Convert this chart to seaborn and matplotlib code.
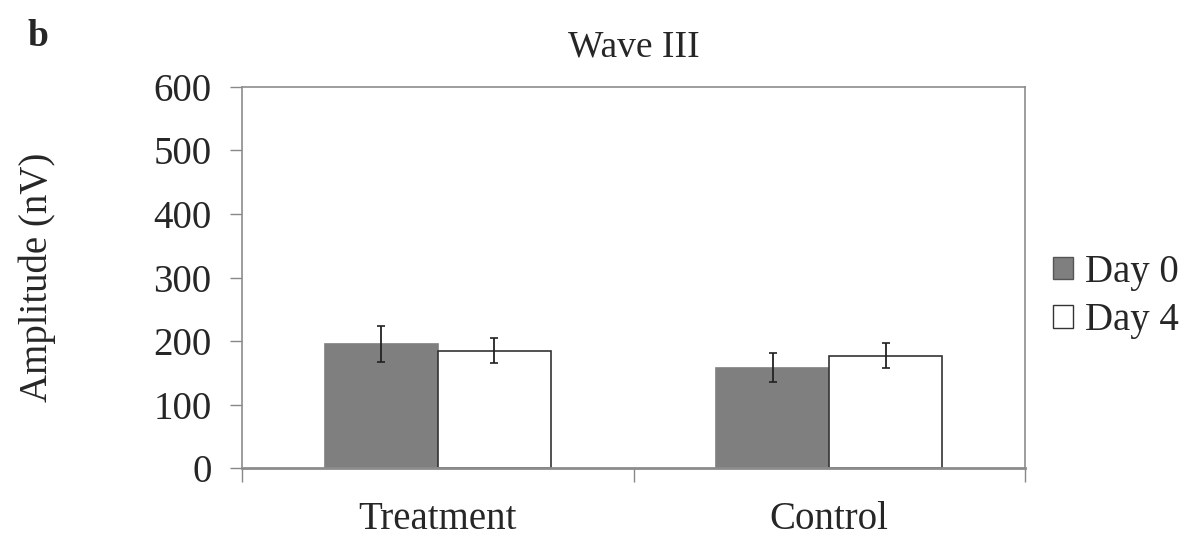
import numpy as np
import pandas as pd
import seaborn as sns
from matplotlib import pyplot as plt
from matplotlib.patches import Patch

# values (Wave III amplitude, nV)
groups = ["Treatment", "Control"]
days = ["Day 0", "Day 4"]
day0_mean = [195, 158]
day4_mean = [185, 177]
day0_err = [28, 23]
day4_err = [19, 20]

df = pd.DataFrame({
    "group": groups + groups,
    "day": [days[0]] * 2 + [days[1]] * 2,
    "amp": day0_mean + day4_mean,
})
errs = {days[0]: day0_err, days[1]: day4_err}

sns.set_style("white")
plt.rcParams['font.family'] = ['Liberation Serif', 'DejaVu Serif']

fig = plt.figure(figsize=(11.94, 5.4), dpi=100)
ax = fig.add_axes([0.2027, 0.1333, 0.6558, 0.7056])

pal = {days[0]: "#7f7f7f", days[1]: "#ffffff"}
sns.barplot(data=df, x="group", y="amp", hue="day", order=groups, hue_order=days,
            palette=pal, width=0.577, gap=0, errorbar=None, saturation=1,
            legend=False, ax=ax)

# edges + error bars, per hue level
edge = {days[0]: "#7f7f7f", days[1]: "#333333"}
for cont, d in zip(ax.containers, days):
    xs = []
    ys = []
    for bar in cont:
        bar.set_edgecolor(edge[d])
        bar.set_linewidth(1.2)
        xs.append(bar.get_x() + bar.get_width() / 2)
        ys.append(bar.get_height())
    ax.errorbar(xs, ys, yerr=errs[d], fmt="none", ecolor="#222222",
                elinewidth=1.3, capsize=3, capthick=1.2, zorder=5)

ax.set_ylim(0, 600)
ax.set_xlim(-0.5, 1.5)
ax.set_yticks(np.arange(0, 601, 100))
ax.tick_params(axis="y", labelsize=28, direction="out", length=9, width=1,
               color="#888888", pad=13, left=True)

# Excel-style x ticks: marks at the group boundaries, labels centred
ax.set_xticks([-0.5, 0.5, 1.5])
ax.set_xticklabels([])
ax.set_xticks([0, 1], minor=True)
ax.set_xticklabels(groups, minor=True)
ax.tick_params(axis="x", which="major", direction="out", length=10, width=1,
               color="#888888", bottom=True)
ax.tick_params(axis="x", which="minor", length=0, labelsize=28, pad=24)

for s in ax.spines.values():
    s.set_color("#8c8c8c")
    s.set_linewidth(1.2)
ax.spines["bottom"].set_linewidth(2)

ax.set_xlabel("")
ax.set_ylabel("Amplitude (nV)", fontsize=28, labelpad=70)
ax.set_title("Wave III", fontsize=27, pad=22)

handles = [Patch(facecolor=pal[d], edgecolor=edge[d] if d == days[1] else "#555555",
                 linewidth=1) for d in days]
ax.legend(handles, days, loc="center left", bbox_to_anchor=(1.036, 0.45),
          frameon=False, fontsize=28, handlelength=0.52, handleheight=0.52,
          handletextpad=0.3, labelspacing=0.3, borderpad=0, borderaxespad=0)

fig.text(0.023, 0.915, "b", fontsize=27, fontweight="bold")

fig.savefig("out.png", dpi=100)
